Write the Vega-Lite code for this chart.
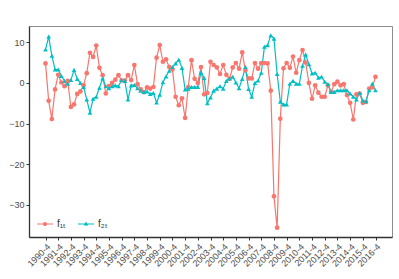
{
  "$schema": "https://vega.github.io/schema/vega-lite/v6.json",
  "autosize": {"type": "none"},
  "padding": {"left": 29, "top": 26, "right": 7, "bottom": 42},
  "width": 363,
  "height": 211,
  "background": "white",
  "config": {
    "font": "Liberation Sans",
    "view": {"stroke": "#8c8c8c", "strokeWidth": 1},
    "axis": {"grid": false, "domainColor": "#333333", "domainWidth": 1.3, "tickColor": "#333333", "tickSize": 3, "labelColor": "#4d4d4d", "labelFontSize": 9, "labelPadding": 2, "title": null, "labelOverlap": false}
  },
  "data": {"values": [
    {"t":0,"f1":4.8,"f2":8.2},{"t":1,"f1":-4.4,"f2":11.4},{"t":2,"f1":-8.9,"f2":6.7},{"t":3,"f1":-1.6,"f2":3.3},{"t":4,"f1":2.0,"f2":3.3},
    {"t":5,"f1":0.1,"f2":1.7},{"t":6,"f1":-0.8,"f2":0.5},{"t":7,"f1":0.5,"f2":-0.2},{"t":8,"f1":-5.9,"f2":0.7},{"t":9,"f1":-5.3,"f2":3.2},
    {"t":10,"f1":-2.7,"f2":1.0},{"t":11,"f1":-2.1,"f2":0.0},{"t":12,"f1":-0.6,"f2":-1.0},{"t":13,"f1":2.4,"f2":-4.1},{"t":14,"f1":7.4,"f2":-7.3},
    {"t":15,"f1":6.4,"f2":-3.9},{"t":16,"f1":9.2,"f2":-3.4},{"t":17,"f1":3.7,"f2":-1.2},{"t":18,"f1":1.9,"f2":1.1},{"t":19,"f1":-2.6,"f2":-0.8},
    {"t":20,"f1":-0.8,"f2":-1.3},{"t":21,"f1":0.0,"f2":-0.8},{"t":22,"f1":0.8,"f2":-0.6},{"t":23,"f1":1.9,"f2":-0.8},{"t":24,"f1":0.6,"f2":0.7},
    {"t":25,"f1":0.6,"f2":0.5},{"t":26,"f1":1.9,"f2":-4.1},{"t":27,"f1":0.7,"f2":-0.6},{"t":28,"f1":4.4,"f2":-0.5},{"t":29,"f1":-0.3,"f2":-1.3},
    {"t":30,"f1":-1.6,"f2":-1.9},{"t":31,"f1":-2.3,"f2":-2.2},{"t":32,"f1":-1.1,"f2":-2.1},{"t":33,"f1":-1.4,"f2":-2.7},{"t":34,"f1":-1.0,"f2":-2.5},
    {"t":35,"f1":6.2,"f2":-4.8},{"t":36,"f1":9.3,"f2":-2.9},{"t":37,"f1":5.2,"f2":0.2},{"t":38,"f1":5.8,"f2":1.6},{"t":39,"f1":3.9,"f2":3.0},
    {"t":40,"f1":3.3,"f2":3.9},{"t":41,"f1":-3.4,"f2":4.8},{"t":42,"f1":-5.5,"f2":5.7},{"t":43,"f1":-3.8,"f2":3.7},{"t":44,"f1":-8.6,"f2":-1.6},
    {"t":45,"f1":-1.0,"f2":-1.4},{"t":46,"f1":5.6,"f2":-1.0},{"t":47,"f1":1.0,"f2":-1.0},{"t":48,"f1":0.0,"f2":-1.0},{"t":49,"f1":3.9,"f2":2.6},
    {"t":50,"f1":-2.8,"f2":1.2},{"t":51,"f1":-2.5,"f2":-5.0},{"t":52,"f1":5.2,"f2":-3.6},{"t":53,"f1":4.4,"f2":-1.9},{"t":54,"f1":3.8,"f2":-1.4},
    {"t":55,"f1":2.2,"f2":-0.8},{"t":56,"f1":4.4,"f2":-1.4},{"t":57,"f1":2.0,"f2":0.5},{"t":58,"f1":1.0,"f2":1.1},{"t":59,"f1":3.8,"f2":1.5},
    {"t":60,"f1":4.9,"f2":0.1},{"t":61,"f1":3.5,"f2":-1.3},{"t":62,"f1":7.5,"f2":1.0},{"t":63,"f1":3.1,"f2":3.9},{"t":64,"f1":1.1,"f2":-1.5},
    {"t":65,"f1":1.1,"f2":-3.4},{"t":66,"f1":4.9,"f2":0.0},{"t":67,"f1":3.5,"f2":0.6},{"t":68,"f1":4.9,"f2":2.5},{"t":69,"f1":4.9,"f2":8.9},
    {"t":70,"f1":4.8,"f2":9.3},{"t":71,"f1":-1.9,"f2":11.7},{"t":72,"f1":-27.9,"f2":10.9},{"t":73,"f1":-35.6,"f2":2.2},{"t":74,"f1":-8.8,"f2":-4.6},
    {"t":75,"f1":3.6,"f2":-5.3},{"t":76,"f1":4.9,"f2":-5.3},{"t":77,"f1":3.7,"f2":-0.2},{"t":78,"f1":6.5,"f2":0.5},{"t":79,"f1":2.5,"f2":-0.2},
    {"t":80,"f1":5.6,"f2":-0.2},{"t":81,"f1":8.1,"f2":4.2},{"t":82,"f1":5.0,"f2":7.0},{"t":83,"f1":0.0,"f2":4.6},{"t":84,"f1":-3.9,"f2":2.3},
    {"t":85,"f1":-0.6,"f2":2.5},{"t":86,"f1":-2.4,"f2":1.3},{"t":87,"f1":-3.4,"f2":1.5},{"t":88,"f1":-3.4,"f2":0.3},{"t":89,"f1":-0.6,"f2":-0.3},
    {"t":90,"f1":-2.2,"f2":-2.2},{"t":91,"f1":-0.3,"f2":-2.2},{"t":92,"f1":0.3,"f2":-1.8},{"t":93,"f1":-0.6,"f2":-1.8},{"t":94,"f1":-0.3,"f2":-1.8},
    {"t":95,"f1":-3.0,"f2":-1.8},{"t":96,"f1":-4.9,"f2":-2.6},{"t":97,"f1":-9.0,"f2":-3.4},{"t":98,"f1":-2.8,"f2":-4.1},{"t":99,"f1":-2.6,"f2":-2.5},
    {"t":100,"f1":-4.9,"f2":-4.3},{"t":101,"f1":-4.7,"f2":-4.5},{"t":102,"f1":-1.4,"f2":-1.8},{"t":103,"f1":-1.1,"f2":-0.2},{"t":104,"f1":1.5,"f2":-1.8}
  ]},
  "transform": [{"fold": ["f1", "f2"], "as": ["series", "value"]}],
  "encoding": {
    "x": {"field": "t", "type": "quantitative",
      "scale": {"domain": [-5.2, 109.2], "nice": false, "zero": false},
      "axis": {"values": [0,4,8,12,16,20,24,28,32,36,40,44,48,52,56,60,64,68,72,76,80,84,88,92,96,100,104],
        "labelExpr": "(1990 + datum.value / 4) + '-4'", "labelAngle": -45, "labelAlign": "right", "labelBaseline": "top"}},
    "y": {"field": "value", "type": "quantitative",
      "scale": {"domain": [-37.9, 14.0], "nice": false, "zero": false},
      "axis": {"values": [-30, -20, -10, 0, 10]}}
  },
  "layer": [
    {"mark": {"type": "line", "strokeWidth": 1.2},
      "encoding": {"color": {"field": "series", "type": "nominal",
        "scale": {"domain": ["f1", "f2"], "range": ["#F8766D", "#00BFC4"]}, "legend": null}}},
    {"mark": {"type": "point", "filled": true, "opacity": 1, "size": 22},
      "encoding": {
        "color": {"field": "series", "type": "nominal",
          "scale": {"domain": ["f1", "f2"], "range": ["#F8766D", "#00BFC4"]}, "legend": null},
        "shape": {"field": "series", "type": "nominal",
          "scale": {"domain": ["f1", "f2"], "range": ["circle", "triangle-up"]}, "legend": null}}},
    {"transform": [{"filter": "datum.t < 0"}],
      "mark": {"type": "point", "filled": true, "opacity": 1},
      "encoding": {
        "color": {"field": "series", "type": "nominal",
          "scale": {"domain": ["f1", "f2"], "range": ["#F8766D", "#00BFC4"]},
          "legend": {"title": null, "orient": "bottom-left", "direction": "horizontal", "offset": 8,
            "labelExpr": "datum.label == 'f1' ? 'f₁ₜ' : 'f₂ₜ'", "labelFontSize": 10, "labelColor": "#333333", "columnPadding": 12, "labelOffset": 4,
            "symbolSize": 256, "symbolStrokeWidth": 0, "symbolOpacity": 1}},
        "shape": {"field": "series", "type": "nominal",
          "scale": {"domain": ["f1", "f2"], "range": ["M-1,-0.075H1V0.075H-1Z M-0.26,0A0.26,0.26 0 1 1 0.26,0A0.26,0.26 0 1 1 -0.26,0Z", "M-1,-0.075H1V0.075H-1Z M0,-0.32L0.29,0.19L-0.29,0.19Z"]},
          "legend": {"title": null, "orient": "bottom-left", "direction": "horizontal", "offset": 8,
            "labelExpr": "datum.label == 'f1' ? 'f₁ₜ' : 'f₂ₜ'", "labelFontSize": 10, "labelColor": "#333333", "columnPadding": 12, "labelOffset": 4,
            "symbolSize": 256, "symbolStrokeWidth": 0, "symbolOpacity": 1}}}}
  ],
  "resolve": {"scale": {"color": "independent", "shape": "independent"}}
}
